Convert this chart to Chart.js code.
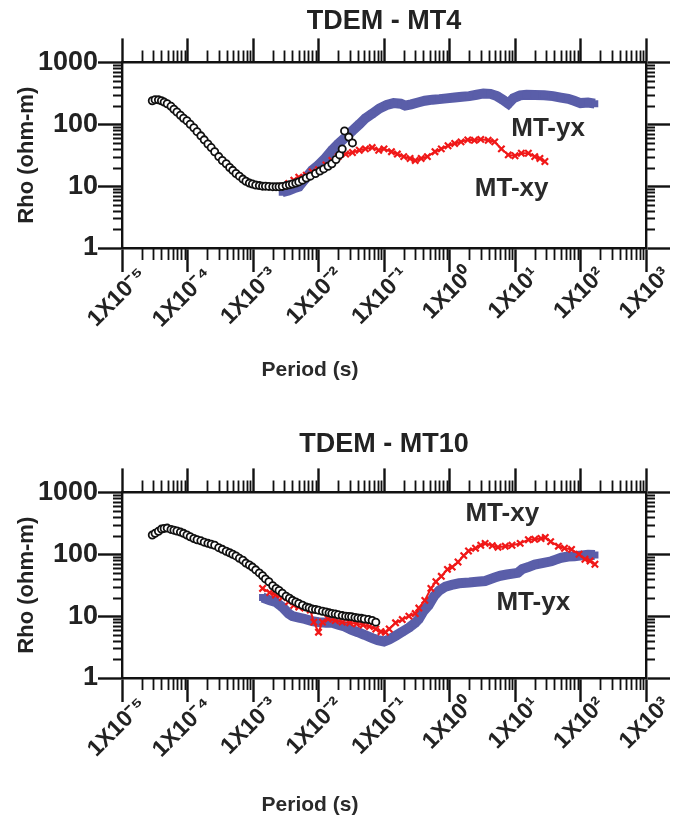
<!DOCTYPE html>
<html>
<head>
<meta charset="utf-8">
<script src="https://cdn.jsdelivr.net/npm/chart.js@4.4.1/dist/chart.umd.min.js"></script>
<style>
  body { margin: 0; background: #fff; }
  canvas { display: block; }
</style>
</head>
<body>
<canvas id="mt4" width="680" height="411"></canvas>
<canvas id="mt10" width="680" height="411"></canvas>
<script>
// Axis ticks
const periodTicks = [1e-5, 1e-4, 1e-3, 1e-2, 1e-1, 1e0, 1e1, 1e2, 1e3];
const periodTickLabels = ["1X10⁻⁵", "1X10⁻⁴", "1X10⁻³", "1X10⁻²", "1X10⁻¹", "1X10⁰", "1X10¹", "1X10²", "1X10³"];
const rhoTicks = [1, 10, 100, 1000];

// ---- MT4 ----
const tdem4Period = [2.9e-5, 3.2e-5, 3.6e-5, 4e-5, 4.4e-5, 4.9e-5, 5.6e-5, 6.2e-5, 6.9e-5, 7.8e-5, 8.7e-5, 9.8e-5, 1.1e-4, 1.25e-4, 1.4e-4, 1.6e-4, 1.8e-4, 2.05e-4, 2.3e-4, 2.6e-4, 3e-4, 3.4e-4, 3.9e-4, 4.4e-4, 4.9e-4, 5.5e-4, 6.2e-4, 7e-4, 7.8e-4, 8.8e-4, 9.8e-4, 1.1e-3, 1.25e-3, 1.4e-3, 1.55e-3, 1.75e-3, 2e-3, 2.25e-3, 2.5e-3, 2.8e-3, 3.2e-3, 3.6e-3, 4e-3, 4.5e-3, 5e-3, 5.7e-3, 6.5e-3, 7.5e-3, 9e-3, 1.05e-2, 1.2e-2, 1.4e-2, 1.6e-2, 1.85e-2, 2.1e-2, 2.3e-2, 2.5e-2, 2.9e-2, 3.3e-2];
const tdem4Rho    = [240, 250, 248, 240, 228, 215, 195, 175, 158, 140, 125, 114, 100, 88, 76, 65, 56, 48, 42, 36, 30, 26, 23, 20, 18, 16, 14.5, 13, 12, 11.2, 10.8, 10.4, 10.2, 10, 10, 9.9, 9.8, 9.8, 9.8, 9.9, 10.2, 10.5, 10.8, 11.2, 11.7, 12.5, 13.5, 14.5, 16, 17.5, 19, 21, 23, 27, 32, 40, 78, 62, 50];

const xy4Period = [2.8e-3, 3.5e-3, 4.2e-3, 5e-3, 6.5e-3, 8e-3, 1e-2, 1.3e-2, 1.6e-2, 2e-2, 2.6e-2, 3.3e-2, 4.2e-2, 5.2e-2, 6.6e-2, 8.3e-2, 0.1, 0.13, 0.16, 0.2, 0.25, 0.3, 0.37, 0.46, 0.6, 0.75, 0.95, 1.2, 1.5, 1.9, 2.4, 3, 3.9, 4.9, 6.2, 7.9, 10, 12.5, 16, 20, 24, 28.6];
const xy4Rho    = [10, 11, 12.5, 14, 15, 17, 18.5, 22, 26, 30, 33, 35, 38, 40, 42, 38, 40, 36, 33, 30, 28, 26, 28, 30, 36, 40, 45, 49, 52, 56, 55, 57, 55, 52, 40, 32, 31, 34, 34, 30, 28, 25];

const yx4Period = [2.8e-3, 3.5e-3, 4.2e-3, 5e-3, 6.2e-3, 8e-3, 1e-2, 1.3e-2, 1.6e-2, 2e-2, 2.6e-2, 3.3e-2, 4.2e-2, 5.2e-2, 6.6e-2, 8.5e-2, 0.11, 0.14, 0.18, 0.21, 0.26, 0.33, 0.42, 0.55, 0.7, 0.9, 1.2, 1.55, 2, 2.6, 3.3, 4.2, 5.3, 6.5, 7.9, 9.5, 12, 15, 20, 28, 38, 50, 65, 80, 100, 130, 165];
const yx4Rho    = [8, 8.5, 9.2, 9.8, 13, 18, 22, 29, 38, 48, 62, 79, 100, 125, 148, 180, 205, 220, 215, 200, 210, 225, 240, 250, 255, 262, 270, 278, 285, 300, 315, 310, 285, 250, 215, 265, 294, 300, 298, 294, 285, 270, 258, 240, 220, 225, 215];

// ---- MT10 ----
const tdem10Period = [2.9e-5, 3.2e-5, 3.6e-5, 4e-5, 4.4e-5, 4.9e-5, 5.6e-5, 6.2e-5, 6.9e-5, 7.8e-5, 8.7e-5, 9.8e-5, 1.1e-4, 1.25e-4, 1.4e-4, 1.6e-4, 1.8e-4, 2.05e-4, 2.3e-4, 2.6e-4, 3e-4, 3.4e-4, 3.9e-4, 4.4e-4, 4.9e-4, 5.5e-4, 6.2e-4, 7e-4, 7.8e-4, 8.8e-4, 9.8e-4, 1.1e-3, 1.25e-3, 1.4e-3, 1.55e-3, 1.75e-3, 2e-3, 2.25e-3, 2.5e-3, 2.8e-3, 3.2e-3, 3.6e-3, 4e-3, 4.5e-3, 5e-3, 5.7e-3, 6.5e-3, 7.2e-3, 8e-3, 9e-3, 1e-2, 1.15e-2, 1.3e-2, 1.45e-2, 1.6e-2, 1.8e-2, 2e-2, 2.3e-2, 2.6e-2, 2.9e-2, 3.2e-2, 3.6e-2, 4e-2, 4.5e-2, 5e-2, 5.8e-2, 6.6e-2, 7.5e-2];
const tdem10Rho    = [205, 218, 235, 255, 262, 265, 252, 245, 238, 228, 218, 205, 192, 180, 172, 165, 157, 150, 145, 140, 128, 120, 112, 106, 100, 94, 86, 80, 72, 67, 62, 56, 50, 45, 40, 36, 31, 28, 26, 23.5, 21, 19.5, 18, 17, 16, 15, 14, 13.6, 13, 12.8, 12.5, 12, 11.7, 11.3, 11, 10.8, 10.5, 10.2, 10, 9.9, 9.8, 9.5, 9.3, 9.2, 9, 8.8, 8.5, 8];

const xy10Period = [1.4e-3, 1.8e-3, 2.2e-3, 2.8e-3, 3.5e-3, 4.2e-3, 5e-3, 6.2e-3, 7.5e-3, 8.5e-3, 1e-2, 1.15e-2, 1.4e-2, 1.8e-2, 2.3e-2, 3e-2, 3.8e-2, 4.8e-2, 6e-2, 7.5e-2, 0.09, 0.105, 0.12, 0.15, 0.19, 0.24, 0.3, 0.34, 0.42, 0.52, 0.62, 0.75, 0.93, 1.1, 1.35, 1.65, 1.95, 2.5, 3, 3.5, 4.5, 5.5, 7.1, 9, 12, 16, 20, 25, 29, 35, 46, 57, 73, 95, 117, 140, 166];
const xy10Rho    = [28, 24, 22, 20, 17, 15, 14, 13.5, 12.5, 8, 5.5, 8, 9, 8.5, 8, 7.8, 7.5, 7.2, 6.8, 6.2, 5.6, 5.5, 6.2, 7.8, 8.8, 10, 11, 13.5, 18, 28, 36, 44, 57, 62, 75, 95, 113, 125, 140, 150, 138, 130, 135, 140, 150, 172, 175, 180, 187, 160, 135, 125, 120, 100, 83, 78, 69];

const yx10Period = [1.4e-3, 1.8e-3, 2.2e-3, 2.8e-3, 3.5e-3, 4e-3, 5e-3, 6.2e-3, 8e-3, 1e-2, 1.3e-2, 1.6e-2, 2e-2, 2.5e-2, 3.2e-2, 4e-2, 5e-2, 6.6e-2, 8e-2, 0.1, 0.12, 0.15, 0.19, 0.24, 0.3, 0.34, 0.4, 0.48, 0.58, 0.7, 0.87, 1.08, 1.4, 2, 2.6, 3.5, 4.9, 6, 7.5, 11, 13, 16, 20, 26, 36, 42, 51, 65, 81, 105, 130, 166];
const yx10Rho    = [20, 18, 17, 14, 11, 10, 9.5, 9, 8.3, 8, 7.8, 7.8, 7.3, 6.8, 6, 5.5, 5, 4.4, 4.1, 3.9, 4.2, 4.8, 5.6, 6.5, 7.8, 9, 12, 15, 21, 26, 30, 32, 34, 35, 36, 37, 42, 45, 47, 50, 58, 62, 68, 72, 77, 82, 88, 92, 93, 96, 98, 97];

// series name labels placed inside the plot (period, rho)
const mt4LabelText = ["MT-yx", "MT-xy"];
const mt4LabelPeriod = [32, 8.9];
const mt4LabelRho = [85, 9.2];
const mt10LabelText = ["MT-xy", "MT-yx"];
const mt10LabelPeriod = [6.4, 19];
const mt10LabelRho = [447, 16.4];

const pts = (xs, ys) => xs.map((x, i) => ({ x: x, y: ys[i] }));
const INK = "#111";

// minor ticks on all four sides (2..9 inside each decade)
const minorTicks = {
  id: "minorTicks",
  afterDraw(chart) {
    const { ctx, chartArea: a, scales } = chart;
    const minors = (min, max) => {
      const out = [];
      for (let d = Math.round(Math.log10(min)); d < Math.round(Math.log10(max)); d++) {
        for (let k = 2; k <= 9; k++) out.push(k * Math.pow(10, d));
      }
      return out;
    };
    ctx.save();
    ctx.strokeStyle = INK;
    ctx.lineWidth = 1.8;
    ctx.beginPath();
    minors(scales.x.min, scales.x.max).forEach(v => {
      const px = Math.round(scales.x.getPixelForValue(v)) + 0.5;
      ctx.moveTo(px, a.bottom); ctx.lineTo(px, a.bottom + 12);
      ctx.moveTo(px, a.top); ctx.lineTo(px, a.top - 12);
    });
    minors(scales.y.min, scales.y.max).forEach(v => {
      const py = Math.round(scales.y.getPixelForValue(v)) + 0.5;
      ctx.moveTo(a.left, py); ctx.lineTo(a.left - 9, py);
      ctx.moveTo(a.right, py); ctx.lineTo(a.right + 9, py);
    });
    ctx.stroke();
    ctx.restore();
  }
};

// series labels and the x caption
const plotText = {
  id: "plotText",
  afterDraw(chart, args, opts) {
    const { ctx, chartArea: a, scales } = chart;
    ctx.save();
    ctx.fillStyle = "#2a2a2a";
    ctx.textAlign = "center";
    ctx.textBaseline = "middle";
    ctx.font = "bold 26px 'Liberation Sans', Arial, sans-serif";
    opts.text.forEach((t, i) => {
      ctx.fillText(t, scales.x.getPixelForValue(opts.period[i]), scales.y.getPixelForValue(opts.rho[i]));
    });
    ctx.font = "bold 21px 'Liberation Sans', Arial, sans-serif";
    ctx.fillText("Period (s)", a.left + 188, a.bottom + opts.captionGap);
    ctx.restore();
  }
};

function makeChart(id, title, titlePad, plotBottomGap, captionGap, series, labels) {
  const axisX = (pos) => ({
    type: "logarithmic",
    position: pos,
    min: 1e-5,
    max: 1e3,
    afterBuildTicks: s => { s.ticks = periodTicks.map(v => ({ value: v })); },
    afterFit: s => { s.height = pos === "bottom" ? plotBottomGap : 24; },
    grid: { drawOnChartArea: false, tickLength: 24, tickWidth: 2.4, tickColor: INK },
    border: { color: INK, width: 2.4 },
    ticks: pos === "bottom" ? {
      autoSkip: false,
      minRotation: 45,
      maxRotation: 45,
      labelOffset: 21,
      padding: -10,
      color: "#222",
      font: { family: "'Liberation Sans', Arial, sans-serif", size: 23, weight: "bold" },
      callback: (v, i) => periodTickLabels[i]
    } : { display: false }
  });
  const axisY = (pos) => ({
    type: "logarithmic",
    position: pos,
    min: 1,
    max: 1000,
    afterBuildTicks: s => { s.ticks = rhoTicks.map(v => ({ value: v })); },
    afterFit: s => { s.width = pos === "left" ? 122 : 34; },
    grid: { drawOnChartArea: false, tickLength: 24, tickWidth: 2.4, tickColor: INK },
    border: { color: INK, width: 2.4 },
    ticks: pos === "left" ? {
      padding: 0,
      color: "#222",
      font: { family: "'Liberation Sans', Arial, sans-serif", size: 27, weight: "bold" },
      callback: v => String(v)
    } : { display: false },
    title: pos === "left" ? {
      display: true,
      text: "Rho (ohm-m)",
      color: "#222",
      font: { family: "'Liberation Sans', Arial, sans-serif", size: 22, weight: "bold" },
      padding: { top: 14, bottom: 0 }
    } : { display: false }
  });

  return new Chart(document.getElementById(id), {
    type: "scatter",
    data: {
      datasets: [
        {
          label: "TDEM",
          data: pts(series[0][0], series[0][1]),
          pointStyle: "circle",
          pointRadius: 3.6,
          pointBorderWidth: 1.8,
          borderColor: INK,
          backgroundColor: "#fff",
          showLine: false
        },
        {
          label: "MT-xy",
          data: pts(series[1][0], series[1][1]),
          pointStyle: "crossRot",
          pointRadius: 4.5,
          pointBorderWidth: 2.2,
          borderColor: "#f01818",
          backgroundColor: "#f01818",
          showLine: true,
          borderWidth: 2
        },
        {
          label: "MT-yx",
          data: pts(series[2][0], series[2][1]),
          pointStyle: "rect",
          pointRadius: 5,
          pointBorderWidth: 0,
          borderColor: "#5a5ea9",
          backgroundColor: "#5a5ea9",
          showLine: true,
          borderWidth: 10
        }
      ]
    },
    options: {
      responsive: false,
      animation: false,
      layout: { padding: 0 },
      scales: {
        x: axisX("bottom"),
        x2: axisX("top"),
        y: axisY("left"),
        y2: axisY("right")
      },
      plugins: {
        legend: { display: false },
        tooltip: { enabled: false },
        title: {
          display: true,
          text: title,
          fullSize: false,
          color: "#222",
          font: { family: "'Liberation Sans', Arial, sans-serif", size: 27, weight: "bold" },
          padding: titlePad
        },
        plotText: { text: labels[0], period: labels[1], rho: labels[2], captionGap: captionGap }
      }
    },
    plugins: [minorTicks, plotText]
  });
}

makeChart("mt4", "TDEM - MT4", { top: 5, bottom: 1 }, 163, 122,
  [[tdem4Period, tdem4Rho], [xy4Period, xy4Rho], [yx4Period, yx4Rho]],
  [mt4LabelText, mt4LabelPeriod, mt4LabelRho]);

makeChart("mt10", "TDEM - MT10", { top: 17, bottom: 8 }, 144, 127,
  [[tdem10Period, tdem10Rho], [xy10Period, xy10Rho], [yx10Period, yx10Rho]],
  [mt10LabelText, mt10LabelPeriod, mt10LabelRho]);
</script>
</body>
</html>
